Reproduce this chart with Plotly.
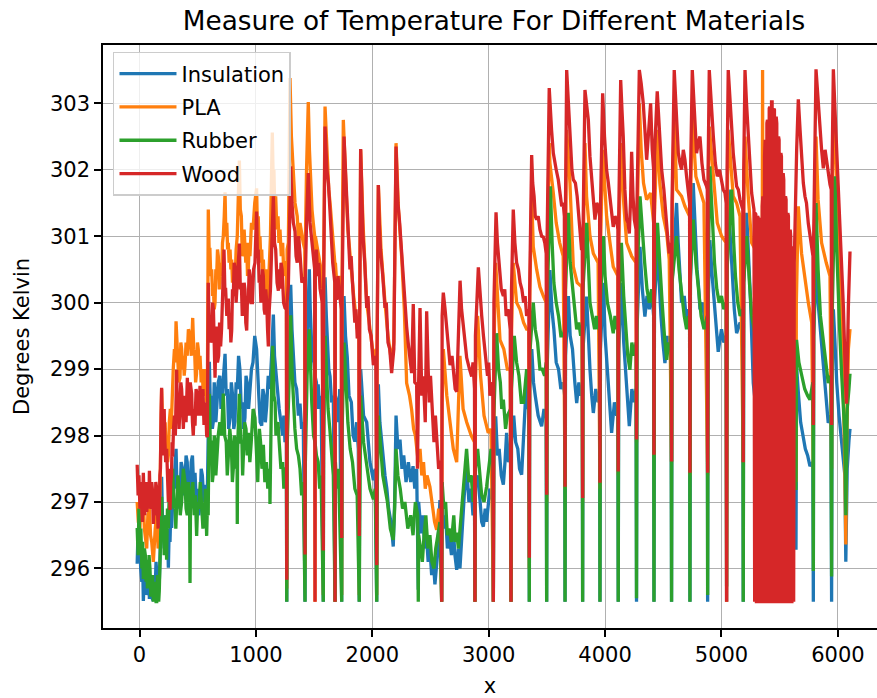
import plotly.graph_objects as go

# ---------------- data ----------------
materials = ["Insulation", "PLA", "Rubber", "Wood"]
colors = ["#1f77b4", "#ff7f0e", "#2ca02c", "#d62728"]
x_ticks = [0, 1000, 2000, 3000, 4000, 5000, 6000]
y_ticks = [296, 297, 298, 299, 300, 301, 302, 303]

insulation = [
    (-20, 296.07), (-12, 296.6), (-5, 296.5), (4, 296.49), (10, 296.0), (20, 295.8), (27, 296.1),
    (33, 295.51), (42, 295.9), (50, 295.9), (56, 295.6), (62, 295.90), (68, 295.7), (75, 295.6),
    (80, 296.0), (85, 295.54), (92, 295.9), (100, 295.8), (108, 295.55), (119, 295.51), (127, 295.9),
    (135, 295.7), (142, 296.1), (148, 295.95), (154, 295.6), (160, 295.6), (165, 296.0), (170, 295.78),
    (180, 296.4), (185, 297.0), (190, 297.38), (198, 296.7), (205, 296.8), (212, 296.3), (219, 296.37),
    (227, 296.8), (235, 296.2), (242, 296.5), (248, 296.01), (255, 296.6), (262, 296.4), (269, 296.9),
    (276, 296.61), (285, 297.0), (295, 297.2), (304, 297.5), (314, 297.80), (322, 297.2), (330, 297.3),
    (338, 296.9), (348, 297.08), (358, 297.6), (370, 297.5), (380, 297.1), (391, 297.32), (400, 297.7),
    (410, 297.6), (422, 297.0), (434, 297.14), (444, 297.6), (455, 297.7), (466, 297.2), (477, 297.44),
    (488, 297.0), (500, 297.2), (510, 296.8), (520, 296.97), (530, 297.5), (540, 297.4), (552, 297.0),
    (563, 297.26), (573, 296.9), (583, 297.14), (592, 298.2), (600, 299.11), (608, 298.5), (618, 298.6),
    (626, 298.1), (634, 298.21), (642, 298.8), (650, 298.6), (656, 298.2), (663, 298.45), (676, 298.8),
    (690, 298.9), (700, 298.4), (710, 298.6), (722, 298.9), (735, 299.23), (745, 298.6), (755, 298.7),
    (766, 298.1), (778, 298.27), (789, 298.8), (800, 298.6), (810, 298.1), (820, 298.21), (830, 298.8),
    (840, 298.7), (851, 299.2), (863, 298.99), (874, 298.4), (885, 298.5), (895, 298.1), (906, 298.27),
    (915, 298.9), (925, 298.8), (937, 298.4), (949, 298.63), (962, 299.0), (975, 299.1), (990, 299.5),
    (1006, 299.3), (1015, 298.8), (1025, 298.6), (1037, 298.2), (1050, 298.15), (1060, 298.7),
    (1070, 298.6), (1081, 298.2), (1093, 298.45), (1106, 298.9), (1120, 298.7), (1135, 299.2),
    (1150, 299.82), (1160, 299.2), (1170, 299.0), (1185, 298.6), (1200, 298.4), (1215, 298.2),
    (1230, 298.0), (1240, 298.3), (1250, 297.9), (1262, 298.0), (1265, 295.5), (1268, 298.2),
    (1285, 299.0), (1299, 300.27), (1310, 299.6), (1320, 299.2), (1335, 298.8), (1350, 298.7),
    (1365, 298.3), (1379, 298.48), (1393, 298.1), (1407, 298.2), (1422, 295.5), (1425, 298.5),
    (1440, 299.6), (1459, 300.5), (1467, 299.9), (1475, 299.6), (1485, 299.1), (1493, 299.23),
    (1508, 298.9), (1520, 298.8), (1528, 298.4), (1535, 298.77), (1548, 298.4), (1560, 298.6),
    (1579, 295.5), (1582, 299.0), (1594, 300.38), (1605, 299.8), (1615, 299.5), (1626, 299.0),
    (1637, 298.89), (1650, 298.5), (1665, 298.6), (1680, 295.5), (1683, 298.6), (1700, 298.48),
    (1710, 298.2), (1720, 298.7), (1737, 295.5), (1740, 299.0), (1757, 300.1), (1770, 299.5),
    (1785, 299.18), (1800, 298.6), (1820, 298.5), (1835, 298.0), (1850, 297.91), (1865, 298.2),
    (1880, 297.8), (1888, 295.5), (1891, 298.0), (1900, 299.0), (1925, 298.3), (1952, 298.2),
    (1980, 297.6), (2009, 297.33), (2025, 297.5), (2038, 295.5), (2041, 297.5), (2052, 298.77),
    (2065, 298.2), (2080, 297.9), (2095, 297.7), (2109, 297.4), (2125, 297.2), (2140, 296.9),
    (2160, 296.7), (2180, 296.33), (2192, 297.0), (2204, 298.3), (2220, 297.8), (2238, 297.94),
    (2255, 297.5), (2270, 297.7), (2290, 297.3), (2310, 297.6), (2330, 297.3), (2350, 297.54),
    (2365, 297.2), (2381, 297.5), (2395, 295.68), (2398, 297.0), (2420, 296.53), (2435, 296.8),
    (2450, 296.3), (2465, 296.5), (2480, 296.1), (2495, 296.3), (2510, 295.9), (2525, 296.1),
    (2538, 295.76), (2560, 296.2), (2581, 297.03), (2596, 295.5), (2600, 297.0), (2615, 296.6),
    (2630, 296.8), (2645, 296.3), (2660, 296.53), (2680, 296.2), (2696, 296.6), (2710, 296.2),
    (2725, 295.98), (2740, 296.3), (2753, 296.0), (2770, 296.6), (2790, 297.1), (2810, 297.54),
    (2830, 297.0), (2850, 297.2), (2865, 296.8), (2878, 297.0), (2882, 295.5), (2886, 297.3),
    (2905, 297.4), (2925, 297.03), (2940, 296.7), (2954, 296.63), (2970, 296.9), (2982, 296.7),
    (3010, 297.2), (3036, 297.0), (3040, 295.5), (3044, 297.8), (3060, 298.29), (3075, 297.7),
    (3090, 297.8), (3108, 297.4), (3126, 297.26), (3140, 297.6), (3154, 298.04), (3170, 297.6),
    (3188, 297.7), (3192, 295.5), (3196, 297.9), (3215, 298.3), (3232, 297.9), (3250, 297.8),
    (3265, 297.5), (3283, 297.41), (3305, 298.3), (3326, 298.89), (3340, 298.4), (3346, 298.5),
    (3349, 295.5), (3352, 298.7), (3370, 299.3), (3385, 298.8), (3400, 298.6), (3425, 298.3),
    (3455, 298.14), (3475, 298.4), (3494, 298.3), (3498, 295.5), (3502, 299.0), (3526, 300.49),
    (3543, 299.9), (3560, 299.6), (3580, 299.1), (3600, 299.0), (3620, 298.7), (3640, 298.8),
    (3653, 298.6), (3656, 295.5), (3660, 299.2), (3684, 300.1), (3700, 299.5), (3720, 299.3),
    (3740, 298.8), (3756, 298.49), (3775, 298.8), (3790, 298.6), (3804, 298.7), (3807, 295.5),
    (3810, 299.3), (3841, 300.09), (3855, 299.5), (3870, 299.0), (3885, 298.6), (3899, 298.34),
    (3920, 298.7), (3940, 298.5), (3953, 298.6), (3956, 295.5), (3960, 299.3), (3985, 300.3),
    (4000, 299.5), (4020, 299.0), (4040, 298.4), (4056, 298.04), (4080, 298.5), (4100, 298.3),
    (4110, 298.4), (4113, 295.5), (4117, 299.3), (4140, 300.3), (4160, 299.4), (4180, 298.8),
    (4195, 298.4), (4208, 298.14), (4230, 298.7), (4250, 298.5), (4266, 298.7), (4270, 295.5),
    (4274, 299.6), (4300, 300.84), (4320, 300.2), (4342, 299.79), (4360, 300.1), (4380, 299.9),
    (4400, 300.2), (4417, 299.8), (4420, 295.5), (4424, 300.0), (4450, 300.8), (4465, 300.2),
    (4480, 299.8), (4497, 299.4), (4514, 299.09), (4535, 299.5), (4550, 299.3), (4567, 299.4),
    (4571, 295.5), (4575, 300.3), (4614, 301.5), (4628, 300.9), (4640, 300.6), (4657, 300.0),
    (4680, 300.1), (4700, 299.7), (4715, 299.9), (4726, 299.8), (4729, 295.5), (4733, 300.3),
    (4757, 301.8), (4773, 301.0), (4790, 300.5), (4805, 300.2), (4815, 299.9), (4840, 300.0),
    (4860, 299.6), (4878, 299.7), (4881, 295.5), (4885, 300.0), (4900, 300.94), (4920, 300.4),
    (4940, 300.0), (4955, 299.6), (4972, 299.26), (5000, 299.6), (5020, 299.4), (5040, 299.5),
    (5044, 295.5), (5048, 300.4), (5058, 301.7), (5075, 301.0), (5090, 300.5), (5110, 299.9),
    (5130, 299.54), (5160, 299.7), (5183, 299.6), (5187, 295.5), (5191, 300.3), (5216, 301.35),
    (5235, 300.6), (5250, 300.0), (5273, 298.79), (5290, 298.5), (5350, 298.4), (5450, 298.2),
    (5550, 298.0), (5620, 297.8), (5637, 297.9), (5640, 296.28), (5645, 299.04), (5662, 298.6),
    (5680, 298.2), (5700, 298.0), (5720, 297.8), (5740, 297.7), (5760, 297.54), (5785, 297.6),
    (5789, 295.5), (5792, 299.5), (5812, 300.54), (5830, 300.0), (5850, 299.6), (5865, 299.2),
    (5880, 298.9), (5900, 298.6), (5917, 298.19), (5940, 298.3), (5946, 295.5), (5950, 299.3),
    (5961, 299.9), (5975, 299.4), (5990, 298.8), (6010, 298.3), (6032, 297.9), (6048, 297.6),
    (6060, 297.4), (6068, 296.1), (6080, 297.5), (6095, 297.92), (6104, 298.1),
]

pla = [
    (-20, 297.0), (-10, 296.7), (4, 296.6), (12, 297.0), (20, 296.9), (33, 297.0), (42, 296.6),
    (50, 296.5), (62, 296.3), (72, 296.8), (85, 296.9), (95, 296.5), (105, 296.4), (119, 296.1),
    (127, 296.5), (135, 296.6), (148, 296.8), (160, 296.3), (170, 296.5), (180, 297.6), (190, 298.70),
    (198, 298.2), (205, 298.3), (212, 298.0), (220, 298.2), (228, 297.8), (235, 297.9), (242, 297.6),
    (248, 297.71), (256, 298.2), (265, 298.4), (272, 298.1), (280, 298.6), (290, 299.0), (300, 299.3),
    (307, 299.1), (314, 299.72), (322, 299.3), (330, 299.2), (338, 298.8), (348, 298.87), (355, 299.4),
    (362, 299.3), (370, 299.0), (377, 299.2), (384, 298.9), (391, 299.05), (400, 299.4), (410, 299.2),
    (420, 299.6), (434, 299.5), (445, 299.2), (457, 299.77), (466, 299.3), (475, 299.2), (482, 298.8),
    (490, 298.93), (498, 299.4), (505, 299.3), (512, 299.0), (520, 299.2), (530, 298.8), (540, 299.0),
    (547, 298.6), (554, 298.7), (562, 299.0), (570, 298.9), (577, 298.5), (583, 298.6), (591, 301.4),
    (598, 300.8), (605, 300.8), (612, 300.4), (620, 300.5), (628, 300.1), (635, 300.2), (642, 299.9),
    (649, 300.0), (656, 300.5), (663, 300.4), (670, 300.8), (677, 300.7), (685, 300.2), (692, 300.3),
    (699, 300.6), (706, 300.4), (713, 300.9), (720, 301.0), (728, 301.3), (735, 301.66), (742, 301.0),
    (750, 301.2), (757, 300.8), (763, 300.9), (770, 300.6), (778, 300.8), (785, 300.5), (792, 300.65),
    (799, 300.3), (806, 300.5), (813, 300.1), (820, 300.24), (830, 300.8), (840, 301.0), (849, 301.6),
    (858, 302.14), (866, 301.4), (875, 301.3), (883, 300.7), (892, 300.77), (899, 301.1), (906, 300.9),
    (913, 300.6), (921, 300.9), (928, 300.4), (935, 300.5), (942, 300.9), (949, 300.7), (962, 301.2),
    (975, 301.1), (990, 301.5), (1006, 301.72), (1013, 301.1), (1020, 301.3), (1028, 300.8),
    (1035, 301.0), (1043, 300.6), (1050, 300.8), (1057, 300.4), (1064, 300.65), (1075, 300.2),
    (1085, 300.5), (1095, 300.0), (1107, 300.2), (1115, 300.6), (1125, 301.0), (1133, 301.8),
    (1141, 302.56), (1148, 301.9), (1155, 302.0), (1162, 301.4), (1170, 301.6), (1180, 301.1),
    (1190, 301.3), (1198, 300.9), (1207, 301.1), (1218, 300.7), (1230, 300.9), (1240, 300.4),
    (1250, 300.6), (1262, 300.6), (1265, 295.7), (1268, 300.8), (1279, 300.9), (1293, 303.38),
    (1305, 302.5), (1320, 301.9), (1336, 301.5), (1355, 301.3), (1367, 300.9), (1379, 301.2),
    (1395, 301.0), (1407, 300.9), (1420, 300.8), (1422, 296.0), (1424, 300.8), (1435, 302.0),
    (1450, 303.02), (1460, 302.3), (1470, 301.8), (1482, 301.4), (1493, 301.2), (1505, 301.0),
    (1508, 295.5), (1511, 301.0), (1530, 300.8), (1551, 300.6), (1570, 300.4), (1579, 295.6),
    (1582, 300.5), (1594, 302.95), (1605, 302.4), (1615, 302.2), (1626, 301.7), (1637, 301.5),
    (1660, 300.9), (1678, 300.6), (1680, 295.5), (1683, 300.6), (1694, 300.3), (1715, 300.4),
    (1734, 300.2), (1737, 295.6), (1740, 300.3), (1751, 302.75), (1762, 302.1), (1775, 301.7),
    (1790, 301.1), (1808, 300.7), (1840, 300.1), (1871, 299.6), (1885, 299.7), (1888, 295.6),
    (1891, 299.7), (1900, 302.3), (1920, 301.2), (1952, 300.0), (1980, 299.6), (2009, 299.2),
    (2035, 299.3), (2038, 295.6), (2041, 299.3), (2052, 301.77), (2075, 300.8), (2109, 300.0),
    (2135, 299.5), (2166, 299.1), (2185, 299.4), (2204, 302.4), (2225, 301.4), (2252, 300.7),
    (2275, 299.9), (2295, 298.79), (2320, 298.6), (2338, 298.39), (2355, 298.1), (2370, 298.0),
    (2395, 297.6), (2410, 297.8), (2425, 297.4), (2440, 297.6), (2455, 297.2), (2470, 297.4),
    (2495, 297.23), (2520, 296.9), (2535, 296.7), (2553, 296.58), (2570, 296.9), (2582, 296.83),
    (2596, 295.5), (2600, 298.5), (2610, 299.3), (2640, 298.6), (2668, 298.2), (2696, 297.8),
    (2725, 297.6), (2740, 298.5), (2753, 299.2), (2780, 298.4), (2811, 298.2), (2850, 298.0),
    (2878, 297.9), (2882, 295.5), (2886, 298.8), (2905, 299.8), (2930, 298.9), (2960, 298.3),
    (2996, 298.04), (3020, 298.1), (3040, 295.5), (3045, 299.3), (3060, 300.6), (3097, 299.44),
    (3130, 299.3), (3160, 299.0), (3185, 299.0), (3192, 295.5), (3196, 299.6), (3211, 300.6),
    (3240, 300.0), (3269, 299.9), (3300, 299.7), (3326, 299.6), (3345, 299.6), (3349, 296.0),
    (3352, 300.0), (3369, 301.6), (3383, 300.84), (3412, 300.5), (3440, 300.24), (3469, 300.1),
    (3494, 300.0), (3498, 297.0), (3502, 300.6), (3520, 302.4), (3526, 302.1), (3555, 301.65),
    (3580, 301.2), (3610, 300.9), (3640, 300.7), (3656, 297.2), (3660, 300.9), (3670, 302.6),
    (3698, 301.8), (3727, 300.54), (3760, 300.3), (3800, 300.24), (3807, 297.0), (3810, 300.6),
    (3827, 302.4), (3841, 301.6), (3870, 301.0), (3899, 300.74), (3940, 300.6), (3956, 297.2),
    (3960, 300.8), (3979, 302.3), (4013, 301.3), (4042, 300.9), (4070, 300.54), (4110, 300.4),
    (4113, 297.4), (4117, 300.8), (4134, 302.4), (4160, 301.5), (4185, 300.9), (4228, 300.7),
    (4266, 300.6), (4270, 297.9), (4274, 301.0), (4294, 303.0), (4310, 302.3), (4330, 301.8),
    (4357, 301.55), (4391, 301.65), (4417, 301.2), (4420, 297.7), (4424, 301.3), (4448, 302.6),
    (4470, 301.8), (4500, 301.3), (4529, 301.05), (4551, 300.65), (4571, 297.6), (4575, 301.2),
    (4594, 302.9), (4614, 301.7), (4657, 301.6), (4686, 301.45), (4726, 301.3), (4729, 297.4),
    (4733, 301.5), (4749, 302.8), (4780, 301.9), (4815, 301.7), (4849, 301.5), (4881, 297.4),
    (4885, 301.6), (4895, 302.65), (4920, 302.15), (4964, 301.2), (5001, 301.0), (5040, 300.9),
    (5044, 295.5), (5048, 301.3), (5058, 302.6), (5101, 301.6), (5130, 301.5), (5159, 301.3),
    (5187, 297.6), (5191, 301.4), (5202, 302.5), (5230, 301.6), (5259, 300.9), (5290, 300.8),
    (5330, 300.5), (5350, 300.6), (5353, 303.5), (5356, 300.6), (5400, 300.4), (5450, 300.2),
    (5500, 300.0), (5560, 299.8), (5610, 299.6), (5625, 299.5), (5640, 297.3), (5643, 300.0),
    (5660, 301.45), (5688, 300.74), (5720, 300.3), (5746, 300.0), (5775, 299.7), (5789, 297.5),
    (5792, 300.4), (5812, 302.5), (5830, 301.55), (5860, 300.9), (5900, 300.6), (5932, 300.4),
    (5946, 297.5), (5950, 300.8), (5961, 302.75), (5975, 302.6), (5990, 301.9), (6018, 300.3),
    (6040, 299.3), (6060, 297.5), (6068, 296.36), (6075, 297.8), (6090, 299.3), (6104, 299.6),
]

rubber = [
    (-20, 296.61), (-12, 296.2), (-5, 296.9), (4, 296.3), (12, 296.6), (20, 296.0), (27, 296.4),
    (33, 295.84), (42, 296.3), (50, 296.2), (56, 295.8), (62, 296.13), (68, 295.7), (75, 295.8),
    (82, 296.2), (90, 296.0), (97, 295.6), (105, 295.6), (112, 295.9), (119, 295.5), (127, 295.8),
    (135, 295.6), (142, 295.5), (148, 295.5), (154, 295.9), (160, 295.7), (165, 295.5), (170, 295.66),
    (175, 296.0), (180, 296.3), (185, 296.9), (190, 297.08), (198, 296.5), (205, 296.7), (212, 296.2),
    (219, 296.49), (226, 296.8), (233, 296.13), (240, 296.9), (248, 296.6), (255, 297.1), (262, 296.9),
    (272, 297.3), (285, 297.50), (295, 296.9), (305, 297.0), (312, 296.6), (319, 296.97), (330, 297.4),
    (340, 297.2), (350, 296.8), (362, 297.0), (376, 297.5), (391, 297.3), (400, 296.9), (410, 296.8),
    (420, 297.3), (430, 297.1), (434, 295.78), (438, 296.9), (448, 297.0), (458, 297.3), (470, 296.8),
    (480, 297.1), (491, 296.49), (500, 297.0), (510, 296.9), (522, 297.3), (534, 296.97), (545, 296.6),
    (555, 296.7), (566, 297.2), (577, 296.49), (584, 297.0), (590, 296.8), (595, 297.6), (600, 298.63),
    (608, 297.9), (618, 297.9), (626, 297.3), (634, 297.44), (642, 298.0), (650, 297.9), (656, 297.4),
    (663, 297.68), (676, 298.0), (690, 298.2), (705, 298.0), (720, 298.63), (732, 298.0), (745, 297.9),
    (754, 297.4), (763, 297.68), (776, 298.1), (790, 297.8), (798, 297.3), (806, 297.5), (815, 298.0),
    (825, 297.9), (832, 297.5), (838, 297.8), (840, 296.67), (843, 297.8), (850, 298.2), (858, 298.63),
    (869, 297.9), (880, 297.9), (886, 297.4), (892, 297.68), (903, 298.2), (915, 298.1), (925, 297.7),
    (935, 298.04), (948, 297.6), (960, 297.9), (976, 298.4), (992, 298.27), (1001, 297.8),
    (1010, 297.7), (1016, 297.3), (1021, 297.62), (1030, 298.1), (1040, 297.9), (1052, 297.5),
    (1064, 297.86), (1077, 297.3), (1090, 297.6), (1102, 297.2), (1115, 297.5), (1119, 297.4),
    (1121, 296.97), (1124, 297.8), (1133, 298.5), (1144, 299.35), (1155, 298.6), (1165, 298.5),
    (1172, 298.0), (1178, 298.15), (1190, 298.2), (1200, 297.9), (1215, 297.5), (1230, 297.6),
    (1240, 297.2), (1250, 297.5), (1262, 297.5), (1265, 295.5), (1268, 297.8), (1285, 298.8),
    (1299, 299.81), (1310, 299.0), (1320, 298.5), (1335, 298.1), (1350, 297.8), (1365, 297.7),
    (1379, 297.5), (1393, 297.1), (1407, 297.3), (1422, 295.5), (1425, 297.6), (1440, 298.9),
    (1459, 299.6), (1470, 298.9), (1480, 298.5), (1495, 298.0), (1508, 297.9), (1520, 297.7),
    (1535, 297.6), (1548, 297.2), (1560, 297.4), (1579, 295.5), (1582, 297.8), (1594, 299.5),
    (1607, 298.9), (1620, 298.4), (1635, 298.1), (1650, 297.8), (1665, 297.4), (1680, 295.5),
    (1683, 297.6), (1695, 297.2), (1710, 297.5), (1737, 295.5), (1740, 298.0), (1757, 299.4),
    (1773, 298.7), (1790, 298.2), (1810, 297.8), (1830, 297.6), (1850, 297.2), (1870, 297.1),
    (1888, 295.5), (1891, 297.2), (1900, 298.6), (1925, 297.9), (1950, 297.6), (1980, 297.2),
    (2009, 297.04), (2025, 297.2), (2038, 295.5), (2041, 297.0), (2052, 298.3), (2070, 297.8),
    (2090, 297.4), (2110, 297.2), (2130, 297.0), (2155, 296.6), (2180, 296.43), (2192, 296.9),
    (2204, 297.8), (2220, 297.4), (2240, 297.2), (2260, 296.9), (2280, 297.0), (2305, 296.6),
    (2330, 296.8), (2350, 296.5), (2370, 297.0), (2390, 296.8), (2395, 295.5), (2398, 296.5),
    (2415, 296.3), (2430, 296.1), (2445, 296.5), (2460, 296.8), (2478, 296.3), (2495, 296.5),
    (2512, 296.1), (2530, 296.0), (2545, 296.3), (2560, 296.5), (2581, 296.7), (2596, 295.5),
    (2600, 297.3), (2615, 296.9), (2630, 297.0), (2645, 296.5), (2660, 296.6), (2680, 296.4),
    (2700, 296.8), (2712, 296.4), (2725, 296.54), (2740, 296.3), (2753, 296.6), (2780, 297.2),
    (2795, 297.5), (2810, 297.8), (2830, 297.3), (2850, 297.4), (2866, 297.0), (2878, 297.2),
    (2882, 295.5), (2886, 297.5), (2905, 297.8), (2920, 297.5), (2940, 297.1), (2960, 297.0),
    (2982, 297.23), (3000, 297.5), (3020, 297.8), (3036, 297.6), (3040, 295.5), (3044, 298.3),
    (3068, 299.54), (3085, 299.0), (3100, 298.8), (3112, 298.4), (3126, 298.54), (3145, 298.1),
    (3160, 298.3), (3188, 298.4), (3192, 295.5), (3196, 298.7), (3220, 299.5), (3240, 299.1),
    (3260, 298.9), (3280, 298.5), (3300, 298.5), (3326, 299.0), (3345, 298.8), (3349, 295.5),
    (3352, 299.2), (3383, 300.0), (3400, 299.6), (3420, 299.4), (3440, 299.0), (3460, 299.0),
    (3480, 298.9), (3494, 299.1), (3498, 295.5), (3502, 300.0), (3530, 301.75), (3545, 300.9),
    (3560, 300.3), (3580, 300.0), (3600, 299.8), (3620, 299.5), (3640, 299.5), (3653, 299.6),
    (3656, 295.5), (3660, 300.2), (3684, 301.35), (3700, 300.6), (3720, 300.2), (3740, 299.8),
    (3756, 299.6), (3775, 299.7), (3790, 299.5), (3804, 299.6), (3807, 295.5), (3810, 300.2),
    (3842, 301.2), (3855, 300.6), (3870, 300.0), (3890, 299.8), (3910, 299.6), (3925, 299.8),
    (3940, 299.6), (3953, 299.7), (3956, 295.5), (3960, 300.0), (3985, 301.0), (4000, 300.4),
    (4020, 300.0), (4045, 299.8), (4070, 299.54), (4085, 299.8), (4100, 299.6), (4110, 299.7),
    (4113, 295.5), (4117, 300.0), (4140, 300.9), (4160, 300.1), (4180, 299.6), (4195, 299.2),
    (4213, 298.99), (4230, 299.4), (4250, 299.2), (4266, 299.4), (4270, 295.55), (4274, 300.3),
    (4300, 301.6), (4320, 301.0), (4340, 300.6), (4360, 300.2), (4380, 300.0), (4400, 300.2),
    (4417, 299.9), (4420, 295.5), (4424, 300.2), (4450, 301.2), (4470, 300.5), (4490, 300.0),
    (4510, 299.5), (4529, 299.14), (4545, 299.4), (4560, 299.3), (4567, 299.5), (4571, 295.5),
    (4575, 300.3), (4614, 301.0), (4635, 300.5), (4657, 300.1), (4680, 299.8), (4700, 299.6),
    (4715, 299.8), (4726, 299.7), (4729, 295.5), (4733, 300.4), (4757, 301.25), (4780, 300.6),
    (4800, 300.2), (4825, 299.8), (4850, 299.6), (4878, 299.8), (4881, 295.6), (4885, 300.4),
    (4900, 302.05), (4920, 301.2), (4940, 300.6), (4960, 300.2), (4980, 300.0), (5000, 300.1),
    (5020, 299.9), (5040, 300.0), (5044, 295.73), (5048, 300.5), (5087, 301.7), (5105, 300.9),
    (5120, 300.4), (5140, 300.0), (5160, 299.8), (5183, 299.9), (5187, 295.5), (5191, 300.3),
    (5216, 301.0), (5240, 300.3), (5260, 299.8), (5290, 299.5), (5620, 298.8), (5637, 298.9),
    (5640, 297.18), (5645, 299.44), (5665, 299.1), (5690, 298.9), (5715, 298.7), (5740, 298.6),
    (5760, 298.54), (5785, 298.8), (5789, 295.96), (5792, 299.5), (5812, 301.5), (5830, 300.5),
    (5850, 299.8), (5870, 299.5), (5890, 299.2), (5917, 298.79), (5940, 298.9), (5946, 295.88),
    (5950, 299.7), (5975, 301.9), (5988, 300.9), (6000, 300.2), (6015, 299.6), (6030, 299.0),
    (6045, 298.5), (6060, 298.0), (6068, 296.8), (6080, 298.4), (6095, 298.7), (6104, 298.93),
]

wood = [
    (-20, 297.56), (-12, 297.1), (-5, 297.4), (4, 296.90), (10, 297.3), (15, 297.0), (25, 296.7),
    (30, 297.2), (33, 297.44), (40, 297.0), (45, 296.8), (50, 297.3), (55, 297.2), (62, 296.85),
    (68, 297.1), (75, 297.3), (80, 296.9), (85, 297.47), (92, 297.0), (100, 296.9), (105, 297.3),
    (110, 297.2), (119, 296.67), (126, 297.0), (135, 296.8), (140, 297.3), (148, 297.20), (154, 296.8),
    (160, 296.6), (165, 297.0), (170, 296.79), (175, 297.4), (180, 297.5), (185, 298.3), (190, 298.72),
    (195, 298.1), (200, 298.2), (206, 297.7), (212, 298.4), (218, 297.9), (225, 297.6), (233, 297.80),
    (240, 297.3), (248, 297.0), (255, 297.5), (262, 296.88), (268, 297.3), (275, 297.4), (280, 297.9),
    (285, 297.68), (292, 298.1), (300, 298.3), (308, 298.0), (319, 298.99), (326, 298.4), (333, 298.5),
    (340, 298.1), (348, 298.39), (355, 298.8), (362, 298.7), (370, 298.2), (377, 298.10), (384, 298.6),
    (392, 298.5), (400, 298.2), (411, 298.87), (418, 298.4), (425, 298.3), (436, 298.8), (448, 298.63),
    (455, 298.2), (462, 298.0), (470, 298.4), (477, 298.15), (486, 298.7), (495, 298.6), (508, 298.3),
    (520, 298.75), (528, 298.4), (535, 298.3), (545, 298.7), (554, 298.16), (562, 298.5), (570, 298.4),
    (577, 298.0), (583, 297.98), (591, 300.30), (598, 299.7), (605, 299.8), (612, 299.4), (620, 299.46),
    (628, 300.0), (635, 299.9), (642, 299.2), (649, 298.87), (656, 299.5), (663, 299.64), (670, 299.1),
    (680, 299.2), (688, 299.7), (697, 299.34), (705, 299.6), (712, 300.0), (719, 300.4), (726, 300.80),
    (733, 300.2), (740, 300.2), (750, 299.8), (763, 300.06), (770, 299.6), (778, 299.8), (785, 299.4),
    (792, 299.58), (799, 300.2), (806, 300.1), (813, 300.6), (820, 300.53), (830, 300.0), (840, 300.3),
    (849, 300.6), (858, 300.89), (866, 300.2), (875, 300.3), (883, 299.8), (892, 299.94), (899, 300.3),
    (906, 300.2), (913, 299.7), (921, 299.58), (928, 300.1), (935, 300.0), (942, 300.5), (949, 300.42),
    (958, 300.0), (970, 300.0), (980, 300.5), (992, 300.6), (999, 301.0), (1006, 301.37), (1013, 300.7),
    (1020, 300.8), (1028, 300.3), (1035, 300.42), (1043, 300.0), (1050, 300.1), (1057, 300.5),
    (1064, 300.4), (1071, 299.9), (1078, 299.82), (1085, 300.2), (1093, 300.0), (1100, 299.6),
    (1107, 299.34), (1115, 299.9), (1125, 300.2), (1137, 300.9), (1150, 301.60), (1160, 300.9),
    (1170, 300.8), (1182, 300.3), (1193, 300.18), (1200, 300.5), (1207, 300.21), (1216, 300.6),
    (1225, 300.5), (1238, 300.0), (1250, 299.92), (1262, 299.9), (1265, 295.83), (1268, 300.0),
    (1279, 300.27), (1299, 302.05), (1310, 301.5), (1322, 301.2), (1336, 301.07), (1345, 300.7),
    (1355, 300.6), (1367, 301.0), (1379, 300.73), (1395, 300.3), (1407, 300.38), (1420, 300.3),
    (1422, 296.21), (1424, 300.3), (1435, 301.2), (1450, 301.95), (1465, 301.2), (1478, 301.0),
    (1493, 300.79), (1505, 300.5), (1508, 295.5), (1510, 300.5), (1520, 300.8), (1530, 300.4),
    (1540, 300.6), (1551, 300.21), (1570, 300.0), (1579, 296.27), (1581, 300.0), (1594, 302.65),
    (1610, 302.0), (1623, 301.8), (1637, 301.36), (1650, 301.0), (1660, 300.6), (1678, 300.3),
    (1680, 295.5), (1682, 300.3), (1694, 300.04), (1705, 300.4), (1715, 300.2), (1734, 299.9),
    (1737, 296.46), (1740, 300.0), (1757, 302.5), (1767, 302.0), (1775, 301.6), (1790, 301.2),
    (1808, 300.5), (1818, 300.7), (1830, 300.3), (1850, 299.7), (1860, 299.9), (1871, 299.46),
    (1885, 299.6), (1888, 296.49), (1891, 299.5), (1900, 302.31), (1910, 301.6), (1920, 301.0),
    (1935, 300.6), (1952, 299.92), (1963, 300.1), (1975, 299.6), (1990, 299.5), (2009, 299.06),
    (2030, 299.2), (2038, 296.05), (2041, 299.2), (2052, 301.77), (2060, 301.2), (2070, 300.8),
    (2090, 300.4), (2109, 299.92), (2120, 300.0), (2135, 299.4), (2150, 299.3), (2166, 298.94),
    (2185, 299.3), (2204, 302.35), (2212, 301.9), (2220, 301.5), (2235, 301.2), (2252, 300.73),
    (2263, 300.5), (2275, 300.1), (2285, 299.9), (2295, 299.64), (2308, 299.4), (2320, 299.2),
    (2338, 298.94), (2352, 299.98), (2365, 298.8), (2381, 298.77), (2388, 297.5), (2395, 298.5),
    (2410, 299.92), (2425, 298.6), (2438, 298.89), (2455, 298.2), (2467, 299.87), (2480, 299.0),
    (2490, 298.5), (2500, 298.9), (2510, 298.6), (2520, 298.2), (2530, 297.9), (2542, 298.3),
    (2553, 297.91), (2570, 297.5), (2590, 297.62), (2596, 295.5), (2600, 299.8), (2610, 300.15),
    (2625, 299.9), (2640, 299.6), (2655, 299.2), (2668, 299.06), (2685, 299.2), (2700, 298.9),
    (2712, 298.7), (2725, 298.66), (2740, 299.5), (2754, 300.33), (2767, 299.9), (2780, 299.7),
    (2795, 299.4), (2811, 299.17), (2835, 299.0), (2854, 298.89), (2865, 299.1), (2878, 298.7),
    (2882, 295.5), (2886, 299.5), (2911, 300.53), (2925, 300.1), (2940, 299.8), (2955, 299.5),
    (2968, 299.23), (2990, 298.9), (3000, 299.1), (3011, 298.6), (3035, 298.8), (3040, 295.5),
    (3045, 300.0), (3063, 301.36), (3075, 300.9), (3090, 300.6), (3108, 300.2), (3126, 300.1),
    (3138, 300.2), (3150, 299.8), (3168, 299.9), (3185, 299.6), (3192, 295.5), (3196, 300.2),
    (3211, 301.4), (3225, 300.9), (3240, 300.6), (3255, 300.5), (3270, 300.3), (3285, 300.2),
    (3300, 300.0), (3313, 300.1), (3326, 299.8), (3345, 299.9), (3349, 296.16), (3352, 300.2),
    (3369, 302.22), (3378, 301.8), (3390, 301.6), (3400, 301.3), (3412, 301.25), (3425, 301.3),
    (3440, 301.1), (3455, 301.0), (3469, 300.99), (3482, 300.9), (3494, 300.74), (3498, 297.11),
    (3502, 301.0), (3520, 303.23), (3530, 302.8), (3540, 302.6), (3555, 302.25), (3568, 302.1),
    (3580, 302.0), (3598, 301.85), (3612, 301.6), (3627, 301.45), (3640, 301.5), (3650, 301.3),
    (3656, 297.23), (3660, 301.5), (3670, 303.5), (3685, 303.0), (3698, 302.65), (3707, 302.2),
    (3715, 302.0), (3727, 301.85), (3745, 301.8), (3760, 301.6), (3780, 301.1), (3798, 300.79),
    (3804, 300.9), (3807, 297.06), (3810, 301.0), (3827, 303.2), (3842, 302.9), (3856, 302.75),
    (3870, 302.2), (3884, 301.85), (3900, 301.5), (3913, 301.25), (3928, 301.5), (3942, 301.45),
    (3953, 301.3), (3956, 297.29), (3960, 301.4), (3979, 303.15), (3995, 302.5), (4013, 302.0),
    (4028, 301.8), (4042, 301.55), (4055, 301.3), (4070, 301.14), (4085, 301.3), (4099, 301.25),
    (4110, 301.1), (4113, 297.46), (4117, 301.3), (4134, 303.35), (4145, 302.9), (4156, 302.5),
    (4170, 301.7), (4185, 301.25), (4197, 301.2), (4208, 301.04), (4218, 301.5), (4228, 302.27),
    (4240, 301.6), (4251, 301.25), (4266, 301.1), (4270, 297.94), (4274, 301.5), (4294, 303.5),
    (4310, 303.3), (4328, 303.0), (4342, 302.6), (4357, 302.15), (4375, 302.6), (4391, 303.0),
    (4405, 302.3), (4417, 302.0), (4420, 297.71), (4424, 302.2), (4448, 303.18), (4465, 302.6),
    (4486, 302.0), (4505, 301.7), (4523, 301.25), (4537, 301.0), (4551, 300.74), (4567, 300.9),
    (4571, 297.61), (4575, 301.5), (4594, 303.5), (4610, 302.8), (4629, 302.25), (4643, 302.1),
    (4657, 302.0), (4672, 302.3), (4686, 302.15), (4700, 301.9), (4715, 301.6), (4726, 301.5),
    (4729, 297.44), (4733, 301.8), (4749, 303.5), (4768, 302.8), (4786, 302.25), (4800, 302.4),
    (4815, 302.5), (4832, 302.1), (4849, 301.85), (4872, 301.75), (4878, 301.7), (4881, 297.44),
    (4885, 302.0), (4895, 303.5), (4912, 302.9), (4930, 302.5), (4947, 302.1), (4964, 301.9),
    (4983, 302.0), (5001, 301.8), (5015, 301.7), (5030, 301.65), (5040, 301.5), (5044, 295.5),
    (5048, 302.0), (5058, 303.5), (5080, 302.8), (5101, 302.25), (5115, 302.0), (5130, 301.75),
    (5145, 301.7), (5159, 301.55), (5183, 301.4), (5187, 297.6), (5191, 302.0), (5202, 303.5),
    (5215, 303.0), (5230, 302.5), (5245, 302.0), (5259, 301.65), (5279, 301.4),
    # dense oscillating stretch (drawn as a solid block in the reference)
    (5285, 295.5), (5290, 301.35), (5295, 301.33), (5300, 295.5), (5305, 295.5), (5310, 301.3),
    (5315, 301.28), (5320, 295.5), (5325, 295.5), (5330, 301.25), (5335, 301.27), (5340, 295.5),
    (5345, 295.5), (5350, 301.45), (5355, 301.6), (5360, 295.5), (5365, 295.5), (5370, 302.2),
    (5375, 302.45), (5380, 295.5), (5385, 295.5), (5390, 302.7), (5395, 302.75), (5400, 295.5),
    (5405, 295.5), (5410, 302.92), (5415, 302.95), (5420, 295.5), (5425, 295.5), (5430, 303.02),
    (5435, 303.02), (5440, 295.5), (5445, 295.5), (5450, 302.92), (5455, 302.9), (5460, 295.5),
    (5465, 295.5), (5470, 302.8), (5475, 302.7), (5480, 295.5), (5485, 295.5), (5490, 302.5),
    (5495, 302.45), (5500, 295.5), (5505, 295.5), (5510, 302.25), (5515, 302.2), (5520, 295.5),
    (5525, 295.5), (5530, 301.95), (5535, 301.85), (5540, 295.5), (5545, 295.5), (5550, 301.6),
    (5555, 301.55), (5560, 295.5), (5565, 295.5), (5570, 301.35), (5575, 301.3), (5580, 295.5),
    (5585, 295.5), (5590, 301.1), (5595, 301.0), (5600, 295.5), (5605, 295.5), (5610, 300.85),
    (5615, 300.78), (5620, 295.5),
    (5625, 300.6), (5646, 302.32), (5660, 303.06), (5675, 302.6), (5689, 302.14), (5703, 301.8),
    (5717, 301.6), (5730, 301.5), (5746, 301.19), (5760, 301.0), (5775, 300.77), (5786, 300.7),
    (5789, 298.16), (5792, 301.0), (5812, 303.51), (5830, 303.0), (5846, 302.62), (5860, 302.3),
    (5875, 302.02), (5890, 302.3), (5903, 302.14), (5918, 301.9), (5932, 301.78), (5943, 301.7),
    (5946, 298.16), (5950, 302.0), (5961, 303.51), (5975, 302.9), (5989, 302.32), (6004, 301.8),
    (6018, 301.31), (6032, 300.53), (6047, 299.94), (6067, 298.75), (6075, 298.48), (6090, 299.94),
    (6104, 300.77),
]

series = [insulation, pla, rubber, wood]

# ---------------- figure ----------------
FONT = "DejaVu Sans"
fig = go.Figure()
for name, color, pts in zip(materials, colors, series):
    fig.add_trace(go.Scatter(
        x=[p[0] for p in pts], y=[p[1] for p in pts],
        mode="lines", name=name, legendgroup=name,
        line=dict(color=color, width=3.3),
    ))

axis_common = dict(
    showgrid=True, gridcolor="#b0b0b0", gridwidth=1.4,
    zeroline=False, showline=True, linecolor="black", linewidth=1.5,
    ticks="outside", ticklen=7, tickwidth=1.5, tickcolor="black",
    tickfont=dict(family=FONT, size=21, color="black"),
)

fig.update_layout(
    width=877, height=698,
    margin=dict(l=103, r=0, t=45, b=70),
    paper_bgcolor="white", plot_bgcolor="white",
    font=dict(family=FONT, color="black"),
    title=dict(text="Measure of Temperature For Different Materials",
               font=dict(family=FONT, size=26.3, color="black"),
               x=494 / 877, xref="container", xanchor="center",
               y=1 - 21 / 698, yref="container", yanchor="middle"),
    xaxis=dict(range=[-313.6, 6336], tickvals=x_ticks, mirror=True,
               title=dict(text="x", font=dict(family=FONT, size=21), standoff=12),
               **axis_common),
    yaxis=dict(range=[295.104, 303.877], tickvals=y_ticks, mirror=False,
               title=dict(text="Degrees Kelvin", font=dict(family=FONT, size=21), standoff=15),
               **axis_common),
    legend=dict(x=0.0129, y=0.988, xanchor="left", yanchor="top",
                bgcolor="rgba(255,255,255,0.8)", bordercolor="#cccccc", borderwidth=1.5,
                font=dict(family=FONT, size=21, color="black"),
                itemwidth=57, tracegroupgap=3, traceorder="grouped"),
    showlegend=True,
)

fig.write_html("out.html")
